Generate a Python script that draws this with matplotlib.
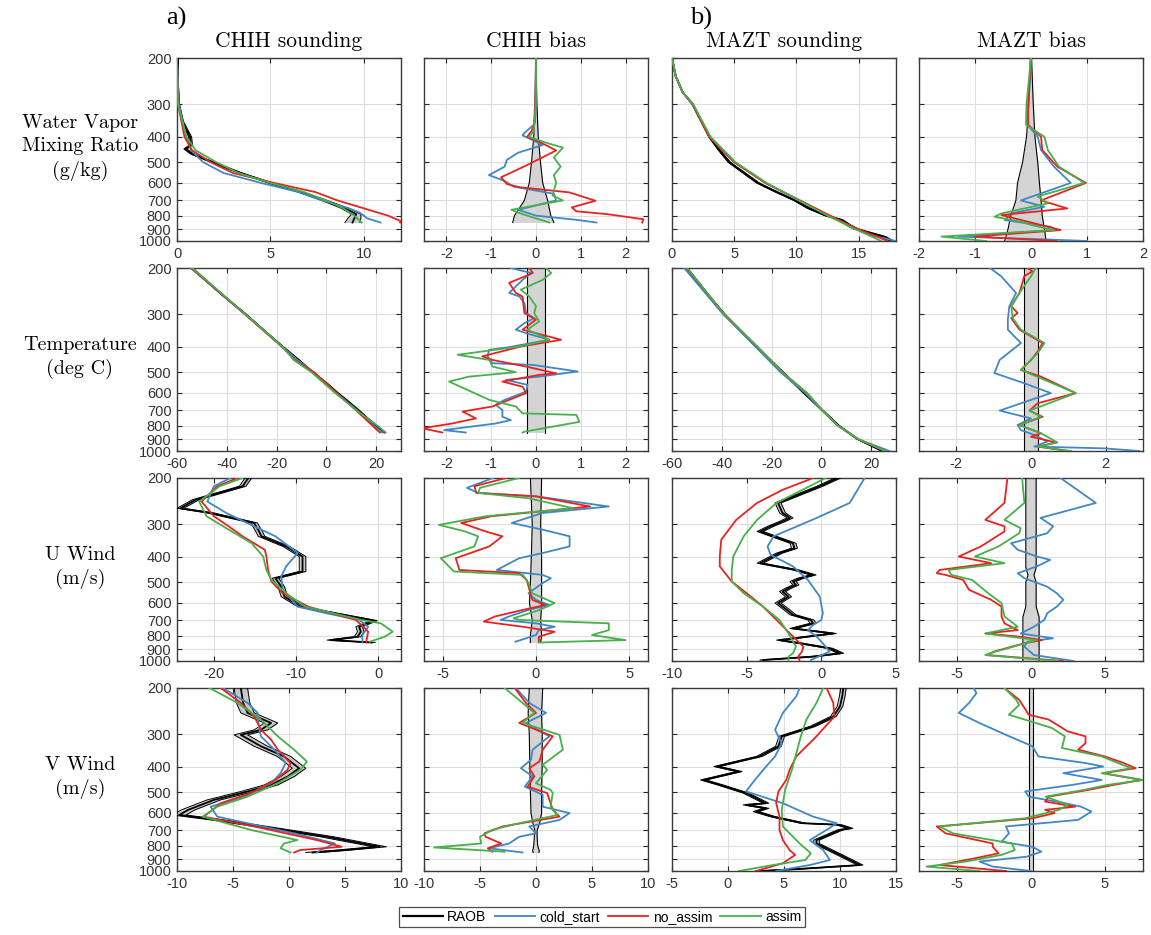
import numpy as np
import matplotlib.pyplot as plt
from matplotlib.lines import Line2D
from matplotlib.ticker import NullLocator, NullFormatter

plt.rcParams['axes.unicode_minus'] = False
plt.rcParams['font.family'] = 'sans-serif'
plt.rcParams['font.sans-serif'] = ['Liberation Sans', 'DejaVu Sans']

# ---------------- data: (pressure hPa, value) ----------------
# RAOB soundings are (pressure, value, spread)

# CHIH water vapor mixing ratio (g/kg)
chih_wv_raob = [(200, 0.05, 0.02), (250, 0.05, 0.02), (300, 0.1, 0.03), (350, 0.3, 0.05), (400, 0.7, 0.08),
                (430, 0.75, 0.08), (445, 0.45, 0.08), (465, 0.8, 0.08), (500, 1.9, 0.1), (550, 3.4, 0.1),
                (600, 5.0, 0.12), (650, 6.6, 0.12), (700, 7.9, 0.15), (750, 9.0, 0.2), (790, 9.6, 0.25),
                (820, 9.5, 0.35), (850, 9.4, 0.4)]
chih_wv_cold = [(200, 0.0), (300, 0.1), (350, 0.3), (400, 0.5), (450, 0.75), (500, 1.4), (550, 2.5), (600, 4.5),
                (650, 6.5), (700, 7.8), (750, 9.2), (780, 9.8), (820, 10.2), (850, 10.9)]
chih_wv_noassim = [(200, 0.0), (300, 0.05), (400, 0.4), (450, 0.8), (500, 1.8), (550, 3.0), (600, 5.2), (650, 7.4),
                   (700, 8.6), (750, 10.0), (800, 11.3), (840, 12.0), (850, 11.95)]
chih_wv_assim = [(200, 0.0), (300, 0.05), (400, 0.5), (450, 1.0), (500, 2.1), (550, 3.3), (600, 5.0), (650, 6.8),
                 (700, 8.0), (750, 8.9), (800, 9.5), (850, 9.9)]

chih_wv_bias_band = [(200, 0, 0), (300, -0.02, 0.02), (400, -0.05, 0.05), (500, -0.1, 0.1), (600, -0.15, 0.15),
                     (700, -0.26, 0.26), (800, -0.48, 0.33), (850, -0.52, 0.4)]
chih_wv_bias_cold = [(200, 0), (300, -0.02), (360, -0.05), (385, -0.25), (395, -0.3), (410, -0.1), (430, 0.15),
                     (460, -0.4), (490, -0.65), (520, -0.7), (560, -1.05), (590, -0.7), (620, -0.5), (660, 0.4),
                     (700, 0.45), (760, -0.4), (800, 0.0), (830, 0.9), (850, 1.35)]
chih_wv_bias_noassim = [(200, 0), (350, -0.02), (380, -0.1), (400, -0.2), (420, 0.1), (451, 0.45), (515, -0.22),
                        (571, -0.78), (606, -0.65), (623, -0.37), (652, 0.74), (702, 1.33), (744, 0.8), (770, 0.9),
                        (790, 1.6), (826, 2.4), (850, 2.37)]
chih_wv_bias_assim = [(200, 0), (300, 0), (380, -0.05), (400, -0.15), (420, 0.2), (440, 0.6), (480, 0.4),
                      (520, 0.55), (560, 0.4), (600, 0.45), (640, 0.4), (670, 0.37), (700, 0.6), (760, -0.55),
                      (790, -0.3), (850, 0.3)]

# MAZT water vapor mixing ratio (g/kg)
mazt_wv_raob = [(200, 0.0, 0.03), (235, 0.3, 0.03), (270, 0.85, 0.04), (300, 1.65, 0.05), (400, 3.0, 0.06),
                (450, 3.8, 0.08), (500, 4.6, 0.1), (600, 6.9, 0.12), (650, 8.4, 0.12), (700, 9.9, 0.12),
                (750, 11.0, 0.15), (800, 12.4, 0.15), (830, 13.6, 0.15), (870, 14.2, 0.2), (900, 14.8, 0.2),
                (962, 17.0, 0.2), (1000, 17.6, 0.2)]
mazt_wv_cold = [(200, 0), (235, 0.3), (270, 0.85), (300, 1.65), (400, 3.0), (500, 5.0), (600, 7.5), (700, 10.2),
                (800, 12.6), (870, 14.2), (900, 14.8), (950, 16.0), (1000, 18.0)]
mazt_wv_noassim = [(200, 0), (235, 0.3), (270, 0.85), (300, 1.65), (400, 3.0), (500, 5.0), (600, 7.5), (700, 10.3),
                   (800, 12.7), (900, 14.9), (950, 16.2), (1000, 17.3)]
mazt_wv_assim = [(200, 0), (235, 0.3), (270, 0.85), (300, 1.7), (400, 3.1), (500, 5.1), (600, 7.6), (700, 10.2),
                 (800, 12.5), (900, 14.7), (950, 15.8), (1000, 16.8)]

mazt_wv_bias_band = [(200, -0.01, 0.01), (300, -0.04, 0.04), (400, -0.08, 0.07), (500, -0.15, 0.12),
                     (600, -0.24, 0.15), (700, -0.27, 0.18), (800, -0.36, 0.2), (900, -0.41, 0.24),
                     (1000, -0.47, 0.27)]
mazt_wv_bias_cold = [(200, 0), (250, -0.02), (300, -0.05), (360, -0.06), (400, 0.12), (449, 0.18), (520, 0.41),
                     (600, 0.71), (700, -0.18), (740, 0.24), (785, -0.36), (832, -0.47), (882, 0.35), (908, 0.47),
                     (962, -1.3), (985, 0.2), (1000, 1.0)]
mazt_wv_bias_noassim = [(200, 0), (300, -0.05), (360, -0.05), (400, 0.18), (449, 0.2), (520, 0.47), (600, 0.98),
                        (700, 0.18), (751, 0.65), (796, -0.53), (856, 0.06), (908, 0.53), (962, -1.0), (1000, 0.45)]
mazt_wv_bias_assim = [(200, 0), (300, -0.08), (360, -0.09), (400, 0.24), (449, 0.3), (520, 0.5), (600, 0.95),
                      (676, 0.12), (718, 0.3), (785, -0.53), (808, -0.65), (844, -0.18), (868, 0.0), (908, 0.41),
                      (962, -1.6), (1000, -0.8)]

# CHIH temperature (deg C)
chih_t_raob = [(200, -54, 0.3), (250, -42.5, 0.3), (300, -32.5, 0.3), (350, -24.5, 0.3), (400, -17.5, 0.3),
               (450, -11, 0.3), (500, -5.5, 0.3), (550, 0, 0.3), (600, 4.5, 0.3), (650, 9, 0.3), (700, 13, 0.3),
               (750, 16.5, 0.3), (800, 20, 0.3), (850, 23.5, 0.3)]
chih_t_cold = [(200, -54.5), (300, -32.7), (400, -17.6), (450, -11.5), (500, -5.0), (600, 4.0), (700, 12.5),
               (800, 19.0), (850, 22.5)]
chih_t_noassim = [(200, -54.2), (300, -32.8), (400, -17.8), (450, -12.5), (500, -5.0), (600, 4.2), (700, 12.0),
                  (800, 18.5), (850, 21.5)]
chih_t_assim = [(200, -53.8), (300, -32.6), (400, -17.6), (450, -13.0), (500, -6.0), (600, 3.5), (700, 12.2),
                (800, 20.5), (850, 23.8)]

chih_t_bias_band = [(200, -0.19, 0.21), (850, -0.19, 0.21)]
chih_t_bias_cold = [(200, -0.56), (209, -0.11), (222, -0.3), (249, -0.6), (257, -0.37), (272, -0.26), (297, -0.22),
                    (311, -0.04), (325, -0.26), (344, -0.45), (355, -0.22), (376, 0.3), (401, -0.6), (411, -1.05),
                    (435, -1.08), (462, -0.97), (469, -0.07), (497, 0.93), (520, 0.07), (535, -0.67), (559, -0.19),
                    (593, -0.22), (638, -0.7), (666, -0.9), (697, -0.75), (740, -0.75), (762, -0.56), (785, -0.9),
                    (832, -2.05), (850, -1.57)]
chih_t_bias_noassim = [(200, -0.15), (209, -0.07), (228, -0.6), (249, -0.45), (257, -0.3), (297, -0.26), (315, 0.0),
                       (344, -0.3), (376, 0.56), (399, -0.34), (435, -1.2), (449, -0.97), (476, -0.22), (505, 0.45),
                       (512, 0.07), (543, -0.75), (568, -0.3), (601, -0.22), (676, -0.97), (707, -1.64),
                       (751, -1.34), (785, -1.87), (819, -2.54), (850, -2.09)]
chih_t_bias_assim = [(200, 0.22), (209, 0.34), (222, 0.15), (242, -0.34), (257, -0.15), (280, 0.0), (297, -0.04),
                     (320, 0.07), (344, -0.19), (376, 0.3), (399, -0.37), (429, -1.75), (449, -1.04), (476, -0.97),
                     (500, -0.45), (520, -1.5), (543, -1.94), (638, -1.04), (676, -0.45), (718, -0.3), (728, 0.9),
                     (774, 0.97), (844, -0.26), (850, -0.3)]

# MAZT temperature (deg C)
mazt_t_raob = [(200, -54, 0.3), (250, -46, 0.3), (300, -39, 0.3), (400, -26, 0.3), (500, -15.5, 0.3),
               (600, -7, 0.3), (700, 0.5, 0.3), (800, 7, 0.3), (900, 14.5, 0.3), (1000, 24.5, 0.3)]
mazt_t_cold = [(200, -55.1), (300, -39.5), (400, -26.4), (500, -16.4), (600, -6.5), (700, 0.3), (800, 6.6),
               (900, 14.6), (1000, 27.4)]
mazt_t_noassim = [(200, -54.1), (300, -39.1), (400, -25.7), (500, -15.7), (600, -5.8), (700, 0.5), (800, 6.7),
                  (900, 14.8), (1000, 25.5)]
mazt_t_assim = [(200, -53.9), (300, -39.1), (400, -25.6), (500, -15.7), (600, -5.8), (700, 0.5), (800, 6.7),
                (900, 14.8), (1000, 25.6)]

mazt_t_bias_band = [(200, -0.2, 0.2), (1000, -0.2, 0.2)]
mazt_t_bias_cold = [(200, -1.1), (215, -0.8), (249, -0.4), (280, -0.58), (315, -0.62), (344, -0.62), (387, -0.27),
                    (449, -0.84), (504, -0.98), (551, -0.18), (601, 0.53), (638, 0.0), (701, -0.84), (751, 0.0),
                    (796, -0.36), (832, -0.27), (868, 0.09), (920, 0.44), (962, 0.09), (977, 1.96), (1000, 2.9)]
mazt_t_bias_noassim = [(200, -0.09), (206, 0.04), (215, -0.18), (249, -0.31), (280, -0.53), (297, -0.36),
                       (311, -0.53), (344, -0.31), (387, 0.31), (417, 0.18), (449, 0.0), (490, -0.27), (520, 0.27),
                       (601, 1.2), (657, 0.18), (701, -0.04), (740, 0.31), (796, -0.31), (856, 0.27), (882, 0.0),
                       (928, 0.67), (962, 0.18), (1000, 0.98)]
mazt_t_bias_assim = [(200, 0.13), (215, 0.0), (249, -0.31), (280, -0.53), (311, -0.49), (344, -0.27), (387, 0.36),
                     (423, 0.18), (490, -0.27), (601, 1.2), (701, -0.04), (740, 0.27), (796, -0.31), (856, 0.27),
                     (928, 0.71), (962, 0.18), (1000, 1.07)]

# CHIH U wind (m/s)
chih_u_raob = [(200, -15.8, 0.4), (215, -16.5, 0.4), (242, -22.2, 0.4), (261, -24.1, 0.4), (272, -20.4, 0.4),
               (297, -15.1, 0.4), (320, -14.5, 0.4), (334, -14.2, 0.4), (365, -11.2, 0.4), (399, -9.2, 0.4),
               (455, -9.2, 0.4), (483, -12.5, 0.4), (520, -11.8, 0.4), (568, -11.4, 0.4), (620, -9.4, 0.4),
               (648, -6.3, 0.4), (676, -3.2, 0.4), (701, -0.5, 0.4), (740, -2.3, 0.4), (773, -2.1, 0.4),
               (808, -2.5, 0.4), (832, -5.8, 0.4), (850, -0.75, 0.4)]
chih_u_cold = [(200, -18), (215, -20), (246, -20.8), (272, -18.5), (306, -15.1), (334, -12.5), (387, -9.8),
               (435, -11.2), (476, -11.8), (535, -11.6), (620, -9.8), (657, -6.3), (697, -2.3), (740, -1.2),
               (796, -1.9), (850, -1.9)]
chih_u_noassim = [(200, -17.1), (215, -19.6), (246, -21.5), (280, -20), (306, -18.2), (334, -16.5), (376, -13.8),
                  (399, -13.6), (449, -13.4), (497, -13.0), (551, -11.6), (620, -8.5), (697, -2.7), (740, -1.8),
                  (773, -1.2), (832, -1.4), (850, -1.4)]
chih_u_assim = [(200, -16.5), (215, -19.3), (246, -21.8), (280, -20.9), (315, -18.2), (355, -15.4), (399, -14.0),
                (449, -13.6), (490, -13.0), (551, -11.2), (620, -8.9), (697, -2.0), (718, 0.35), (773, 1.8),
                (808, 0.8), (844, -1.0)]

chih_u_bias_band = [(200, -0.3, 0.3), (300, -0.2, 0.25), (400, -0.25, 0.3), (500, -0.3, 0.3), (600, -0.35, 0.3),
                    (700, -0.2, 0.25), (800, -0.3, 0.3), (850, -0.3, 0.25)]
chih_u_bias_cold = [(200, -2.3), (218, -3.7), (228, -3.1), (235, 0.0), (257, 3.9), (272, 0.35), (297, -1.3),
                    (315, 0.35), (334, 1.8), (365, 1.8), (387, 0.35), (405, -0.9), (449, -2.1), (469, 0.35),
                    (483, 0.8), (504, 0.35), (551, -0.4), (584, 0.0), (611, 0.7), (638, -0.4), (676, -1.45),
                    (697, -1.9), (718, 0.0), (740, 1.0), (762, 0.15), (796, 0.0), (844, -1.1)]
chih_u_bias_noassim = [(200, -1.6), (215, -3.3), (228, -3.2), (235, 0.0), (257, 2.9), (280, -2.4), (297, -4.0),
                       (320, -2.7), (334, -1.8), (365, -2.5), (405, -4.3), (449, -4.1), (462, -0.9), (490, -0.5),
                       (584, -0.2), (611, 0.5), (638, -0.7), (676, -2.2), (707, -2.8), (740, -0.7), (773, 1.0),
                       (808, 0.15), (844, 0.15)]
chih_u_bias_assim = [(200, -0.9), (218, -3.0), (228, -3.1), (239, -0.4), (261, 2.0), (280, -2.7), (302, -5.2),
                     (320, -3.8), (334, -3.1), (365, -3.3), (405, -5.1), (455, -4.4), (469, -0.7), (504, -0.4),
                     (551, -0.2), (601, 1.0), (638, 0.2), (687, -1.2), (697, -0.9), (718, 3.9), (762, 3.9),
                     (796, 3.0), (832, 4.8), (850, 0.15)]

# MAZT U wind (m/s)
mazt_u_raob = [(200, 1.1, 0.2), (215, -0.1, 0.2), (249, -2.9, 0.2), (272, -2.6, 0.2), (284, -2.1, 0.2),
               (293, -2.6, 0.2), (306, -3.4, 0.2), (320, -4.1, 0.2), (334, -3.2, 0.2), (355, -1.9, 0.2),
               (371, -1.8, 0.2), (387, -2.8, 0.2), (423, -4.1, 0.2), (449, -1.7, 0.2), (469, -0.55, 0.2),
               (483, -1.4, 0.2), (497, -1.9, 0.2), (512, -1.7, 0.2), (527, -2.2, 0.2), (543, -2.6, 0.2),
               (568, -2.2, 0.2), (601, -2.9, 0.2), (638, -2.3, 0.2), (666, -1.9, 0.2), (697, -0.7, 0.2),
               (718, -0.55, 0.2), (751, -1.9, 0.2), (785, 0.8, 0.2), (832, -2.8, 0.2), (856, -1.4, 0.2),
               (894, 0.55, 0.2), (934, 1.3, 0.2), (962, -0.55, 0.2), (991, -3.9, 0.2), (1000, -3.9, 0.2)]
mazt_u_cold = [(200, 2.9), (249, 1.9), (284, -0.3), (334, -3.2), (365, -3.6), (393, -3.4), (435, -1.9),
               (490, -0.9), (568, -0.1), (657, 0.1), (697, 0.0), (728, -0.55), (762, -0.9), (808, -0.3),
               (856, 0.1), (920, 0.55), (991, -0.7), (1000, -0.7)]
mazt_u_noassim = [(200, -0.55), (222, -2.6), (249, -4.3), (289, -5.7), (344, -6.7), (399, -6.8), (435, -6.8),
                  (497, -6.0), (551, -5.0), (620, -3.9), (697, -3.0), (785, -2.1), (882, -1.2), (920, -1.3),
                  (962, -1.55), (1000, -1.45)]
mazt_u_assim = [(200, 0.3), (249, -3.0), (289, -4.3), (334, -5.2), (399, -5.9), (449, -6.0), (497, -6.0),
                (551, -5.2), (620, -3.9), (697, -2.8), (785, -2.2), (882, -1.7), (934, -1.9), (962, -2.2),
                (1000, -2.2)]

mazt_u_bias_band = [(200, -0.35, 0.35), (440, -0.35, 0.35), (470, -0.2, 0.2), (500, -0.35, 0.35),
                    (620, -0.35, 0.35), (680, -0.55, 0.55), (1000, -0.55, 0.55)]
mazt_u_bias_cold = [(200, 2.0), (249, 4.4), (284, 0.65), (306, 1.5), (325, 1.1), (355, -1.35), (376, -0.9),
                    (399, 0.4), (411, 1.3), (435, 0.4), (462, -0.9), (483, -0.45), (520, 1.1), (551, 1.75),
                    (584, 2.2), (620, 1.75), (657, 1.1), (697, 0.9), (740, 0.2), (785, -0.7), (819, 1.5),
                    (844, -0.25), (882, -0.45), (949, 0.2), (1000, 2.9)]
mazt_u_bias_noassim = [(200, -1.6), (249, -1.8), (289, -3.1), (306, -1.8), (320, -1.8), (365, -3.4), (399, -4.9),
                       (423, -2.7), (449, -6.2), (462, -6.4), (469, -5.8), (490, -4.6), (535, -4.2), (584, -2.7),
                       (620, -2.0), (676, -2.0), (718, -1.8), (762, -0.9), (785, -3.1), (808, -0.7), (832, 0.75),
                       (856, -0.45), (920, -2.5), (949, -3.0), (1000, 2.2)]
mazt_u_bias_assim = [(200, -0.6), (249, -0.45), (289, -1.8), (311, -0.7), (325, -0.8), (365, -2.2), (399, -3.8),
                     (423, -1.8), (449, -5.6), (469, -5.4), (490, -4.0), (551, -2.9), (601, -2.0), (676, -1.8),
                     (740, -0.9), (785, -3.1), (832, 0.4), (920, -2.4), (949, -3.1), (1000, 1.8)]

# CHIH V wind (m/s)
chih_v_raob = [(200, -4.3, 0.6), (228, -4.1, 0.6), (249, -3.7, 0.6), (272, -1.6, 0.6), (289, -2.5, 0.6),
               (302, -4.3, 0.6), (334, -2.5, 0.6), (365, -0.45, 0.6), (405, 0.9, 0.6), (435, -0.1, 0.6),
               (469, -1.6, 0.6), (497, -3.7, 0.6), (535, -6.7, 0.6), (584, -9.0, 0.6), (611, -9.8, 0.6),
               (638, -6.4, 0.6), (676, -2.5, 0.6), (740, 3.4, 0.6), (808, 8.1, 0.6), (832, 4.9, 0.6),
               (850, 2.1, 0.6)]
chih_v_cold = [(200, -5.9), (228, -3.7), (249, -2.8), (280, -2.7), (306, -2.5), (344, -1.3), (387, -0.3),
               (423, -0.75), (462, -1.6), (520, -4.0), (568, -7.0), (620, -6.4), (657, -3.7), (718, 0.45),
               (785, 4.1), (832, 2.8), (850, 2.5)]
chih_v_noassim = [(200, -6.1), (228, -4.3), (257, -3.1), (289, -2.5), (315, -1.6), (344, -1.0), (387, 0.15),
                  (411, -0.15), (449, -1.2), (504, -3.4), (551, -6.1), (620, -7.6), (676, -3.1), (762, 2.5),
                  (808, 4.7), (832, 1.0), (850, 0.45)]
chih_v_assim = [(200, -7.1), (228, -4.6), (264, -2.5), (306, -1.0), (344, 0.45), (382, 1.6), (411, 1.0),
                (462, -1.0), (520, -3.7), (568, -6.4), (620, -7.7), (697, -3.4), (762, 0.75), (785, -0.45),
                (819, -0.75), (850, 0.15)]

chih_v_bias_band = [(200, -0.6, 0.6), (250, -0.7, 0.5), (300, -0.6, 0.55), (400, -0.55, 0.55), (500, -0.5, 0.5),
                    (600, -0.45, 0.5), (650, -0.3, 0.35), (700, -0.1, 0.1), (740, -0.15, 0.1), (800, -0.2, 0.15),
                    (840, -0.3, 0.3), (850, -0.25, 0.25)]
chih_v_bias_cold = [(200, -1.8), (228, -0.6), (249, 0.9), (272, -0.9), (306, 1.2), (344, -0.3), (376, -0.45),
                    (405, -1.35), (435, -0.3), (476, -1.0), (512, 0.6), (568, 0.6), (601, 3.0), (638, 2.1),
                    (676, -0.6), (718, 0.0), (740, -1.5), (785, -2.4), (819, -4.2), (850, -1.2)]
chih_v_bias_noassim = [(200, -1.9), (228, -0.9), (249, 0.0), (272, -1.5), (306, 1.5), (344, 0.6), (382, 0.3),
                       (405, -0.6), (435, -0.15), (476, -0.75), (504, 1.0), (584, 1.5), (620, 2.1), (676, -3.0),
                       (718, -4.6), (740, -4.5), (785, -3.1), (819, -4.3), (844, -3.9)]
chih_v_bias_assim = [(200, -2.8), (228, -1.2), (249, -0.15), (272, -1.2), (302, 2.1), (344, 2.4), (393, 0.6),
                     (411, 1.0), (462, 0.0), (490, 1.3), (504, 1.5), (568, 1.3), (611, 1.9), (666, -2.1),
                     (697, -3.9), (740, -5.0), (785, -4.9), (813, -9.1), (844, -2.8)]

# MAZT V wind (m/s)
mazt_v_raob = [(200, 10.3, 0.25), (215, 10.2, 0.25), (235, 10.0, 0.25), (257, 9.4, 0.25), (280, 7.6, 0.25),
               (306, 4.8, 0.25), (334, 4.5, 0.25), (365, 2.8, 0.25), (399, -1.0, 0.25), (417, 1.0, 0.25),
               (449, -2.2, 0.25), (469, -0.7, 0.25), (504, 1.6, 0.25), (551, 3.4, 0.25), (559, 1.6, 0.25),
               (576, 3.4, 0.25), (593, 2.5, 0.25), (620, 4.0, 0.25), (657, 6.7, 0.25), (666, 9.9, 0.25),
               (687, 10.9, 0.25), (697, 10.0, 0.25), (762, 7.9, 0.25), (785, 7.9, 0.25), (856, 9.7, 0.25),
               (949, 11.8, 0.25), (985, 5.9, 0.25), (1000, 2.8, 0.25)]
mazt_v_cold = [(200, 6.4), (215, 6.1), (249, 4.9), (289, 4.2), (325, 4.8), (365, 4.2), (399, 3.4), (449, 2.4),
               (497, 1.6), (551, 4.9), (620, 7.6), (657, 9.7), (697, 8.8), (762, 7.3), (832, 8.5), (908, 9.1),
               (949, 7.3), (1000, 4.3)]
mazt_v_noassim = [(200, 8.8), (228, 9.4), (257, 9.5), (306, 7.9), (365, 6.1), (411, 5.5), (449, 5.2), (497, 4.5),
                  (551, 4.3), (620, 4.6), (697, 4.6), (762, 4.9), (832, 5.5), (868, 6.0), (934, 4.9), (1000, 2.5)]
mazt_v_assim = [(200, 8.5), (228, 7.9), (264, 7.0), (306, 6.5), (355, 6.1), (411, 5.7), (490, 5.1), (584, 4.8),
                (676, 4.9), (785, 6.4), (856, 7.4), (908, 6.9), (949, 4.0), (1000, 1.0)]

mazt_v_bias_band = [(200, -0.15, 0.15), (1000, -0.15, 0.15)]
mazt_v_bias_cold = [(200, -3.9), (209, -3.7), (228, -4.2), (249, -4.9), (272, -3.5), (302, -1.7), (334, 0.1),
                    (365, 0.5), (387, 3.7), (399, 4.9), (423, 2.2), (449, 4.8), (469, 2.8), (497, -0.4),
                    (520, -0.15), (551, 2.3), (568, 3.4), (593, 4.1), (638, 3.2), (676, -1.7), (718, -1.5),
                    (773, -2.0), (808, 0.1), (844, 0.7), (882, -0.3), (920, -3.5), (962, -2.6), (1000, 0.0)]
mazt_v_bias_noassim = [(200, -1.8), (222, -0.8), (253, -0.15), (264, 1.2), (293, 2.5), (306, 3.7), (325, 3.7),
                       (344, 3.2), (365, 5.0), (387, 6.3), (405, 7.1), (423, 4.9), (449, 7.5), (469, 5.6),
                       (490, 3.9), (520, 1.2), (543, 0.95), (568, 3.0), (584, 0.95), (601, 1.6), (629, 0.1),
                       (676, -6.4), (718, -5.8), (785, -2.6), (808, -2.6), (856, -2.2), (894, -3.8), (949, -6.2),
                       (1000, -1.7)]
mazt_v_bias_assim = [(200, -1.8), (222, -1.0), (232, -0.8), (253, -1.5), (284, 1.4), (306, 2.3), (339, 2.1),
                     (365, 4.8), (387, 5.9), (405, 6.8), (423, 4.8), (449, 7.6), (469, 5.2), (490, 3.6),
                     (520, 1.0), (559, 2.5), (584, 1.9), (629, -0.4), (676, -6.2), (718, -5.3), (785, -1.3),
                     (832, -1.1), (868, -2.0), (920, -4.4), (962, -7.1), (1000, -3.5)]

titles = ['CHIH sounding', 'CHIH bias', 'MAZT sounding', 'MAZT bias']
row_labels = ['Water Vapor\nMixing Ratio\n(g/kg)', 'Temperature\n(deg C)', 'U Wind\n(m/s)', 'V Wind\n(m/s)']
p_ticks = [200, 300, 400, 500, 600, 700, 800, 900, 1000]
series_names = ['RAOB', 'cold_start', 'no_assim', 'assim']

panels = [
    [('s', chih_wv_raob, chih_wv_cold, chih_wv_noassim, chih_wv_assim, (0, 12), [0, 5, 10]),
     ('b', chih_wv_bias_band, chih_wv_bias_cold, chih_wv_bias_noassim, chih_wv_bias_assim, (-2.5, 2.5), [-2, -1, 0, 1, 2]),
     ('s', mazt_wv_raob, mazt_wv_cold, mazt_wv_noassim, mazt_wv_assim, (0, 18), [0, 5, 10, 15]),
     ('b', mazt_wv_bias_band, mazt_wv_bias_cold, mazt_wv_bias_noassim, mazt_wv_bias_assim, (-2, 2), [-2, -1, 0, 1, 2])],
    [('s', chih_t_raob, chih_t_cold, chih_t_noassim, chih_t_assim, (-60, 30), [-60, -40, -20, 0, 20]),
     ('b', chih_t_bias_band, chih_t_bias_cold, chih_t_bias_noassim, chih_t_bias_assim, (-2.5, 2.5), [-2, -1, 0, 1, 2]),
     ('s', mazt_t_raob, mazt_t_cold, mazt_t_noassim, mazt_t_assim, (-60, 30), [-60, -40, -20, 0, 20]),
     ('b', mazt_t_bias_band, mazt_t_bias_cold, mazt_t_bias_noassim, mazt_t_bias_assim, (-3, 3), [-2, 0, 2])],
    [('s', chih_u_raob, chih_u_cold, chih_u_noassim, chih_u_assim, (-24.5, 2.8), [-20, -10, 0]),
     ('b', chih_u_bias_band, chih_u_bias_cold, chih_u_bias_noassim, chih_u_bias_assim, (-6, 6), [-5, 0, 5]),
     ('s', mazt_u_raob, mazt_u_cold, mazt_u_noassim, mazt_u_assim, (-10, 5), [-10, -5, 0, 5]),
     ('b', mazt_u_bias_band, mazt_u_bias_cold, mazt_u_bias_noassim, mazt_u_bias_assim, (-7.6, 7.6), [-5, 0, 5])],
    [('s', chih_v_raob, chih_v_cold, chih_v_noassim, chih_v_assim, (-10, 10), [-10, -5, 0, 5, 10]),
     ('b', chih_v_bias_band, chih_v_bias_cold, chih_v_bias_noassim, chih_v_bias_assim, (-10, 10), [-10, -5, 0, 5, 10]),
     ('s', mazt_v_raob, mazt_v_cold, mazt_v_noassim, mazt_v_assim, (-5, 15), [-5, 0, 5, 10, 15]),
     ('b', mazt_v_bias_band, mazt_v_bias_cold, mazt_v_bias_noassim, mazt_v_bias_assim, (-7.6, 7.6), [-5, 0, 5])],
]

# ---------------- figure ----------------
W, H = 1151, 935
fig = plt.figure(figsize=(W / 100, H / 100), dpi=100)

col_left = [177, 424, 672, 919]
row_top = [58, 268, 478, 688]
ax_w, ax_h = 224, 183

c_cold = '#3f87c6'
c_noas = '#e8231f'
c_assim = '#46b04a'
serif = 'cmr10'

for i in range(4):
    for j in range(4):
        kind, first, cold, noas, assim, xlim, xticks = panels[i][j]
        ax = fig.add_axes([col_left[j] / W, 1 - (row_top[i] + ax_h) / H, ax_w / W, ax_h / H])
        f = np.array(first, dtype=float)
        if kind == 's':
            lo, hi = f[:, 1] - f[:, 2], f[:, 1] + f[:, 2]
            ax.fill_betweenx(f[:, 0], lo, hi, color='#c8c8c8', lw=0, zorder=2)
            ax.plot(lo, f[:, 0], color='k', lw=0.7, zorder=3)
            ax.plot(hi, f[:, 0], color='k', lw=0.7, zorder=3)
            ax.plot(f[:, 1], f[:, 0], color='k', lw=1.3, zorder=3)
        else:
            ax.fill_betweenx(f[:, 0], f[:, 1], f[:, 2], color='#d4d4d4', lw=0, zorder=2)
            ax.plot(f[:, 1], f[:, 0], color='k', lw=0.8, zorder=3)
            ax.plot(f[:, 2], f[:, 0], color='k', lw=0.8, zorder=3)
        for d, c in [(cold, c_cold), (noas, c_noas), (assim, c_assim)]:
            d = np.array(d, dtype=float)
            ax.plot(d[:, 1], d[:, 0], color=c, lw=1.3, zorder=4)

        ax.set_yscale('log')
        ax.set_ylim(1000, 200)
        ax.set_yticks(p_ticks)
        ax.yaxis.set_minor_locator(NullLocator())
        ax.yaxis.set_minor_formatter(NullFormatter())
        if j == 0:
            ax.set_yticklabels([str(p) for p in p_ticks])
        else:
            ax.set_yticklabels([])
        ax.set_xlim(*xlim)
        ax.set_xticks(xticks)
        ax.set_xticklabels([str(t) for t in xticks])
        ax.grid(True, color='#dedede', lw=0.8, zorder=0)
        ax.set_axisbelow(True)
        ax.tick_params(which='both', direction='in', top=True, right=True, length=3.5, width=0.8,
                       color='#262626', labelcolor='#333333', labelsize=10.5, pad=4)
        for s in ax.spines.values():
            s.set_color('#3a3a3a')
            s.set_linewidth(1.0)
        if i == 0:
            ax.set_title(titles[j], fontfamily=serif, fontsize=15.5, pad=8)

for i, lab in enumerate(row_labels):
    yc = row_top[i] + ax_h / 2 - 2
    fig.text(80 / W, 1 - yc / H, lab, fontfamily=serif, fontsize=14.5, ha='center', va='center',
             multialignment='center', linespacing=1.35)

fig.text(176 / W, 1 - 18 / H, 'a)', fontfamily='Liberation Serif', fontsize=19, ha='center', va='center')
fig.text(701 / W, 1 - 18 / H, 'b)', fontfamily='Liberation Serif', fontsize=19, ha='center', va='center')

handles = [Line2D([], [], color='k', lw=1.6), Line2D([], [], color=c_cold, lw=1.3),
           Line2D([], [], color=c_noas, lw=1.3), Line2D([], [], color=c_assim, lw=1.3)]
leg = fig.legend(handles, series_names, loc='center', bbox_to_anchor=(602 / W, 1 - 917 / H), ncol=4,
                 frameon=True, fancybox=False, edgecolor='#222222', fontsize=10, handlelength=2.9,
                 handletextpad=0.3, columnspacing=0.6, borderpad=0.25, borderaxespad=0)
leg.get_frame().set_linewidth(0.9)

fig.savefig('out.png', dpi=100)
